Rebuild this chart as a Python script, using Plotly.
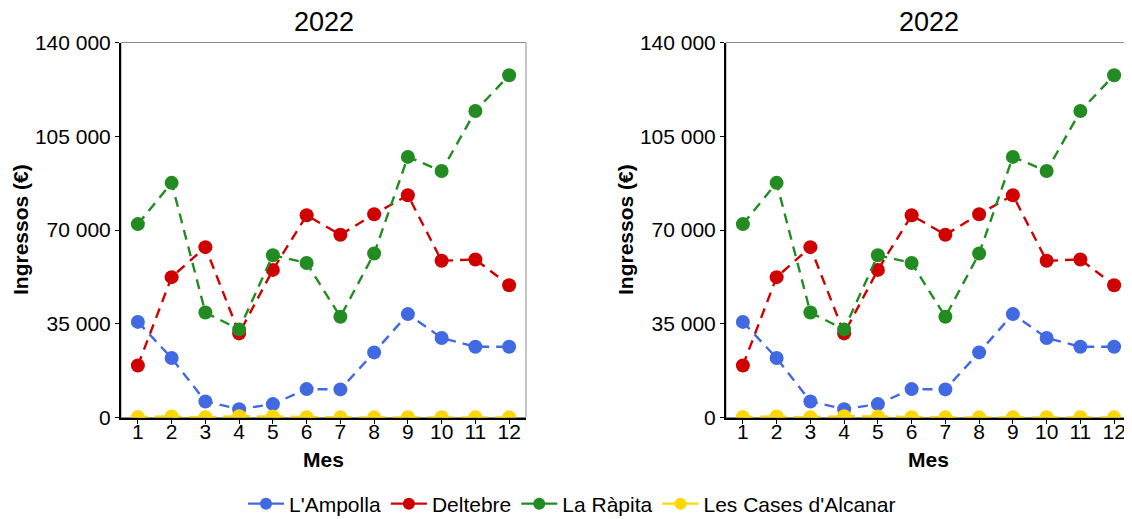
import plotly.graph_objects as go

months = [1, 2, 3, 4, 5, 6, 7, 8, 9, 10, 11, 12]
series_names = ["L'Ampolla", "Deltebre", "La Ràpita", "Les Cases d'Alcanar"]
ampolla = [35700, 22200, 6000, 3100, 5000, 10600, 10500, 24300, 38600, 29700, 26400, 26400]
deltebre = [19400, 52400, 63600, 31400, 55100, 75500, 68200, 75900, 83000, 58500, 59000, 49400]
rapita = [72200, 87600, 39200, 32900, 60600, 57700, 37600, 61200, 97300, 92000, 114400, 127800]
cases = [150, 400, 100, 500, 350, 80, 60, 50, 120, 70, 90, 60]
colors = ["#4169E1", "#D10000", "#228B22", "#FFD700"]
y_tickvals = [0, 35000, 70000, 105000, 140000]
y_ticktext = ["0", "35 000", "70 000", "105 000", "140 000"]
panel_titles = ["2022", "2022"]

all_values = [ampolla, deltebre, rapita, cases]

# page body has an 8px margin; figure sized to fit inside the window
OFF = 8
W, H = 1124, 511


def px(X):
    return (X - OFF) / W


def py(Y):
    return 1 - (Y - OFF) / H


fig = go.Figure()
FONT = "Arial, Liberation Sans, sans-serif"

for p in range(2):
    xa = "x" if p == 0 else "x2"
    ya = "y" if p == 0 else "y2"
    for name, vals, col in zip(series_names, all_values, colors):
        fig.add_trace(go.Scatter(
            x=months, y=vals, name=name, mode="lines+markers",
            line=dict(color=col, width=2.4, dash="10px,7px"),
            marker=dict(color=col, size=14),
            xaxis=xa, yaxis=ya, legendgroup=name, showlegend=False,
            cliponaxis=True,
        ))

# legend entries (solid line + marker, as in the reference legend)
for name, col in zip(series_names, colors):
    fig.add_trace(go.Scatter(
        x=[None], y=[None], name=name, mode="lines+markers",
        line=dict(color=col, width=2.4), marker=dict(color=col, size=12),
        legendgroup=name, showlegend=True, xaxis="x", yaxis="y",
    ))

doms = [(px(121), px(526)), (px(726), px(1131))]
ydom = (py(417.5), py(42.5))
ytitle_x = [20, 625]

axis_common = dict(showgrid=False, zeroline=False, showline=True, linecolor="black",
                   linewidth=2, ticks="outside", ticklen=4, tickwidth=1, tickcolor="black",
                   automargin=False,
                   tickfont=dict(family=FONT, size=21, color="black"))

for p in range(2):
    sfx = "" if p == 0 else "2"
    fig.layout["xaxis" + sfx] = dict(
        domain=doms[p], range=[0.5, 12.5], tickvals=months, anchor="y" + sfx,
        ticklabelstandoff=-10,
        **axis_common)
    fig.layout["yaxis" + sfx] = dict(
        domain=ydom, range=[0, 140000], tickvals=y_tickvals, ticktext=y_ticktext,
        anchor="x" + sfx,
        **axis_common)
    fig.add_shape(type="rect", xref="x" + sfx + " domain", yref="y" + sfx + " domain",
                  x0=0, x1=1, y0=0, y1=1, line=dict(color="#8c8c8c", width=1), layer="below")
    cx = (doms[p][0] + doms[p][1]) / 2
    fig.add_annotation(text=panel_titles[p], xref="paper", yref="paper",
                       x=cx, y=py(22),
                       showarrow=False, font=dict(family=FONT, size=27, color="black"),
                       xanchor="center", yanchor="middle")
    fig.add_annotation(text="<b>Mes</b>", xref="paper", yref="paper",
                       x=cx, y=py(459),
                       showarrow=False, font=dict(family=FONT, size=21, color="black"),
                       xanchor="center", yanchor="middle")
    fig.add_annotation(text="<b>Ingressos (€)</b>", xref="paper", yref="paper",
                       x=px(ytitle_x[p]), y=py(230), textangle=-90,
                       showarrow=False, font=dict(family=FONT, size=21, color="black"),
                       xanchor="center", yanchor="middle")

fig.update_layout(
    width=W, height=H,
    margin=dict(l=0, r=0, t=0, b=0, autoexpand=False),
    paper_bgcolor="white", plot_bgcolor="white",
    legend=dict(orientation="h", x=px(572), xanchor="center", y=py(504), yanchor="middle",
                font=dict(family=FONT, size=21, color="black"), itemwidth=36,
                tracegroupgap=0),
    showlegend=True,
)

fig.write_html("out.html")
